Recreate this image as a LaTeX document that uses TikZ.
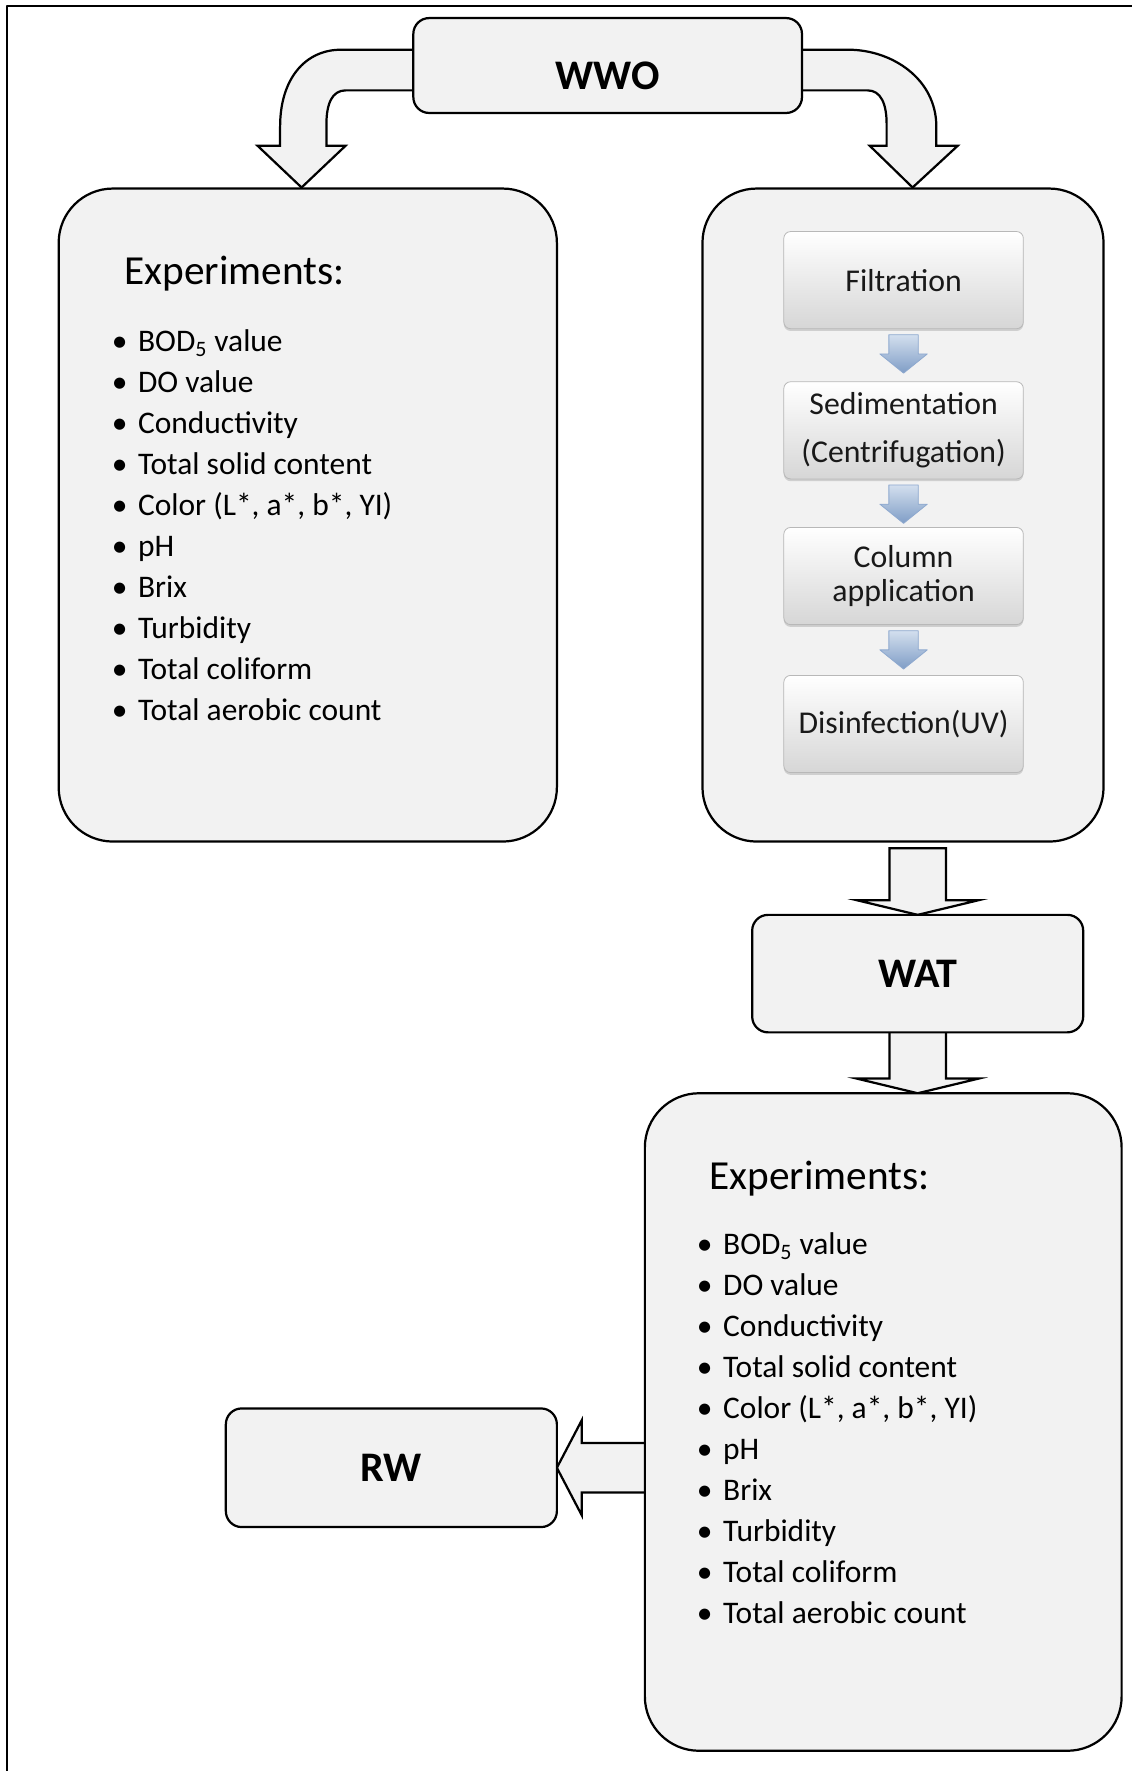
\documentclass[tikz,border=0pt]{standalone}
\usepackage{fontspec}
\setmainfont{Carlito}
\usetikzlibrary{calc,shadows}
\pgfdeclarelayer{bg}
\pgfsetlayers{bg,main}
\definecolor{boxfill}{HTML}{F2F2F2}
\definecolor{arrtop}{HTML}{D3DFEE}
\definecolor{arrbot}{HTML}{7F9DC6}
\definecolor{arredge}{HTML}{8EA9CF}
\begin{document}
\begin{tikzpicture}[x=0.025cm, y=-0.025cm, line join=round,
 bigbox/.style={draw, fill=boxfill, line width=1.4pt, rounded corners=1.2cm, inner sep=0pt, outer sep=0pt},
 smallbox/.style={draw, fill=boxfill, line width=1.4pt, rounded corners=0.35cm, inner sep=0pt, outer sep=0pt, font=\bfseries\fontsize{26.5}{30}\selectfont},
 blk/.style={draw, fill=boxfill, line width=1.4pt, line join=miter},
 stepbox/.style={rounded corners=0.15cm, minimum width=5.3cm, minimum height=2.15cm, inner sep=0pt, top color=white, bottom color=black!16, draw=black!28, line width=0.5pt, drop shadow={shadow xshift=0pt, shadow yshift=-0.05cm, opacity=0.3}, font=\fontsize{20}{24}\selectfont, align=center, text=black!90},
 smallarr/.style={top color=arrtop, bottom color=arrbot, draw=arredge, line width=0.5pt},
 headtxt/.style={font=\fontsize{26}{30}\selectfont, anchor=base west, inner sep=0pt},
 itemtxt/.style={font=\fontsize{19.8}{24}\selectfont, anchor=base west, inner sep=0pt},
 bul/.style={font=\fontsize{19.8}{24}\selectfont, anchor=base, inner sep=0pt},
]
\useasboundingbox (0,0) rectangle (1002,1568);
\draw[line width=1.4pt] (6,1590) -- (6,5) -- (1020,5);

% main boxes
\node[smallbox, minimum width=8.6cm, minimum height=2.1cm] (wwo) at (538,58) {};
\node[font=\bfseries\fontsize{26.5}{30}\selectfont, inner sep=0pt] (wwot) at (538,67) {WWO};
\node[bigbox, minimum width=11.025cm, minimum height=14.45cm] (exp1) at (272.5,456) {};
\node[bigbox, minimum width=8.875cm, minimum height=14.45cm] (proc) at (799.5,456) {};
\node[smallbox, minimum width=7.325cm, minimum height=2.6cm] (wat) at (812.5,862) {WAT};
\node[bigbox, minimum width=10.55cm, minimum height=14.55cm] (exp2) at (782,1259) {};
\node[smallbox, minimum width=7.325cm, minimum height=2.625cm] (rw) at (346.5,1299.5) {RW};

% block arrows (behind boxes)
\begin{pgfonlayer}{bg}
\draw[blk] ($(wwo.west)+(12,-14)$) -- (302,44) .. controls (270,44) and (248,70) .. (248,112) -- (248,129) -- (228,129) -- (267,166) -- (306,129) -- (289,129) -- (289,110) .. controls (289,92) and (294,80) .. (306,80) -- ($(wwo.west)+(12,22)$);
\draw[blk] ($(wwo.east)+(-12,-14)$) -- (751,44) .. controls (790,44) and (829,70) .. (829,112) -- (829,129) -- (848,129) -- (808,166) -- (770,129) -- (785,129) -- (785,110) .. controls (785,92) and (780,80) .. (768,80) -- ($(wwo.east)+(-12,22)$);
\draw[blk] (wat.north) -- ++(-54,-13) -- ++(29,0) -- ++(0,-46) -- ++(50,0) -- ++(0,46) -- ++(29,0) -- cycle;
\draw[blk] (wat.south |- exp2.north) -- ++(-54,-13) -- ++(29,0) -- ++(0,-42) -- ++(50,0) -- ++(0,42) -- ++(29,0) -- cycle;
\draw[blk] (rw.east) -- ++(22,-42) -- ++(0,20) -- ++(58,0) -- ++(0,44) -- ++(-58,0) -- ++(0,20) -- cycle;
\end{pgfonlayer}

% process steps
\node[stepbox] (filt) at (800,248) {Filtration};
\node[stepbox] (sed) at (800,381) {Sedimentation\\[6pt](Centrifugation)};
\node[stepbox] (col) at (800,510) {Column\\[-2pt]application};
\node[stepbox] (dis) at (800,641) {Disinfection(UV)};
\foreach \a in {filt,sed,col}
  \shadedraw[smallarr] ($(\a.south)+(-13,5)$) -- ++(26,0) -- ++(0,17) -- ++(8,0) -- ++(-21,17) -- ++(-21,-17) -- ++(8,0) -- cycle;

% experiment lists
\node[headtxt] (h1) at (110,252) {Experiments:};
\node[headtxt] (h2) at (628,1053) {Experiments:};
\foreach \t [count=\i from 0] in {{BOD\textsubscript{5} value},{DO value},{Conductivity},{Total solid content},{Color (L*, a*, b*, YI)},{pH},{Brix},{Turbidity},{Total coliform},{Total aerobic count}} {
  \node[bul] (ba\i) at (106,{311+36.3*\i}) {•};
  \node[itemtxt] (ia\i) at (122,{311+36.3*\i}) {\t};
  \node[bul] (bb\i) at (624,{1111+36.3*\i}) {•};
  \node[itemtxt] (ib\i) at (640,{1111+36.3*\i}) {\t};
}
\end{tikzpicture}
\end{document}
